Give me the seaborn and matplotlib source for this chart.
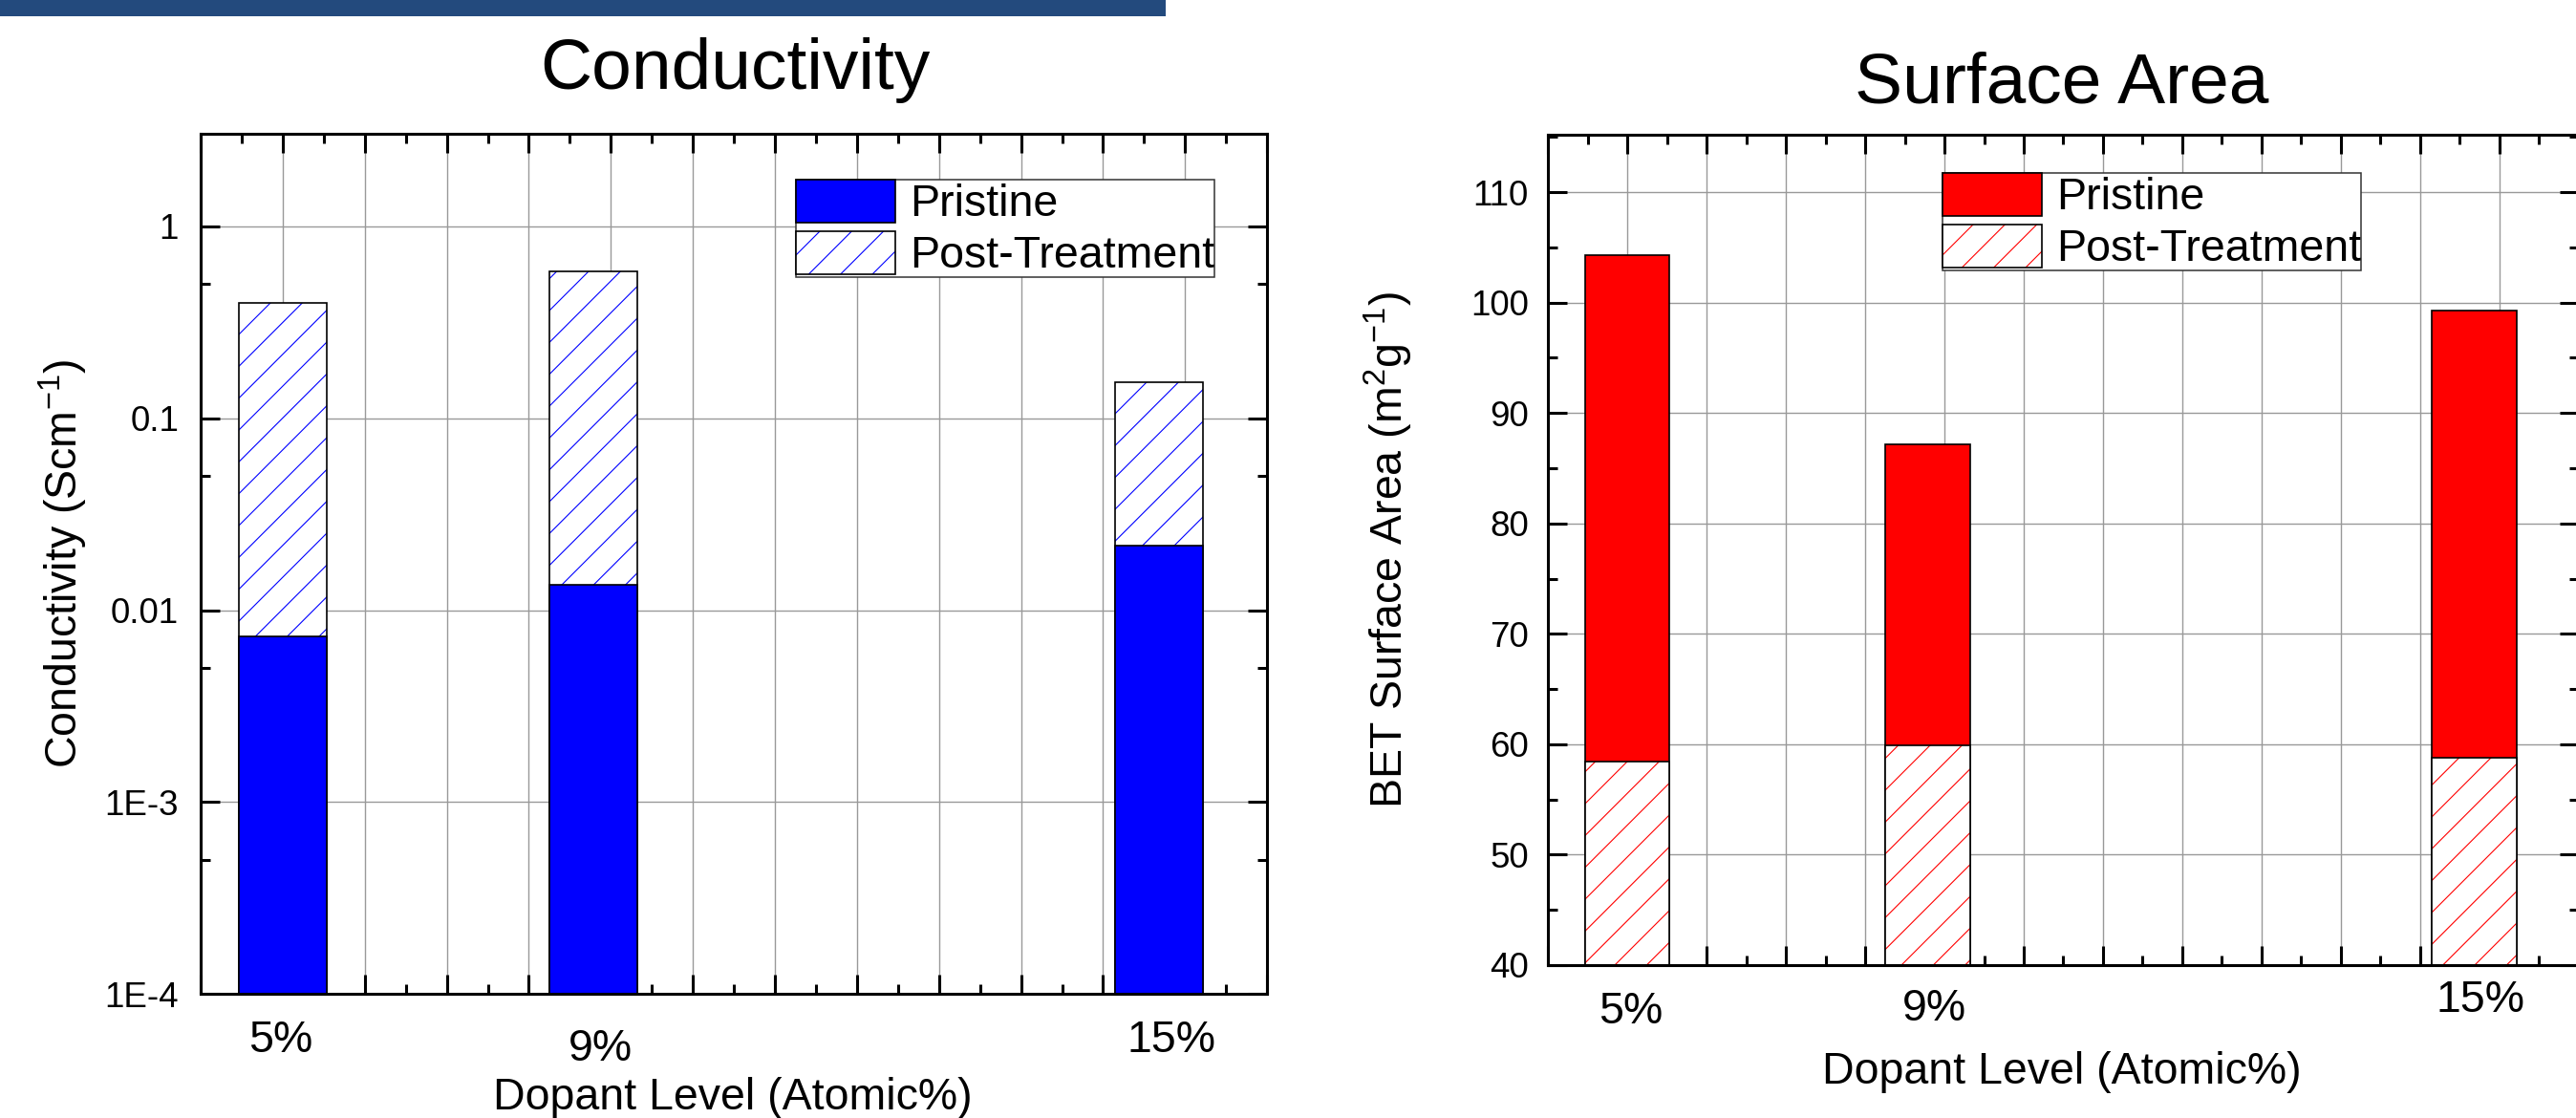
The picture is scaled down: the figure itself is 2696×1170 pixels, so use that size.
import numpy as np
import matplotlib
matplotlib.use("Agg")
import matplotlib.pyplot as plt
import seaborn as sns
from matplotlib.patches import Patch, Rectangle
from matplotlib.legend_handler import HandlerTuple
from matplotlib.ticker import (FixedLocator, FixedFormatter, MultipleLocator,
                               NullFormatter)

# ---------------- data ----------------
dopant_labels = ["5%", "9%", "15%"]
slot_pos = [1.0, 4.79, 11.68]          # bar slots along the (unlabelled) x axis
series_names = ["Pristine", "Post-Treatment"]

cond_pristine = [0.0073, 0.0135, 0.0216]
cond_post = [0.40, 0.58, 0.155]

bet_pristine = [104.3, 87.2, 99.3]
bet_post = [58.4, 59.9, 58.8]

cond_ticks = [1e-4, 1e-3, 1e-2, 1e-1, 1.0]
cond_tick_labels = ["1E-4", "1E-3", "0.01", "0.1", "1"]
cond_minor = [5e-4, 5e-3, 5e-2, 0.5]
bet_ticks = [40, 50, 60, 70, 80, 90, 100, 110]
bet_tick_labels = ["40", "50", "60", "70", "80", "90", "100", "110"]

# ---------------- style ----------------
sns.set_theme(style="white")
plt.rcParams["font.family"] = ["Liberation Sans", "DejaVu Sans"]
plt.rcParams["hatch.linewidth"] = 0.8
plt.rcParams["mathtext.fontset"] = "custom"
plt.rcParams["mathtext.rm"] = "Liberation Sans"
plt.rcParams["mathtext.it"] = "Liberation Sans"
for k in ("text.color", "axes.labelcolor", "xtick.color", "ytick.color",
          "axes.edgecolor"):
    plt.rcParams[k] = "black"

BLUE = "#0000FF"
RED = "#FF0000"
GRID = "#999999"
BAR_W = 1.07
LABEL_FS = 33.5

fig = plt.figure(figsize=(26.96, 11.70), dpi=100)
fig.patch.set_facecolor("white")

# top banner
fig.patches.append(Rectangle((0, 0.9855), 0.4525, 0.0145, transform=fig.transFigure,
                             facecolor="#234A7D", edgecolor="none"))

axL = fig.add_axes([0.0779, 0.1111, 0.4140, 0.7692])
axR = fig.add_axes([0.6009, 0.1368, 0.4002, 0.7427])


def draw_bars(ax, y, **kw):
    w = BAR_W / np.min(np.diff(sorted(slot_pos)))
    sns.barplot(x=slot_pos, y=y, native_scale=True, orient="x", width=w,
                errorbar=None, saturation=1, ax=ax, **kw)


# ---------- left: conductivity ----------
axL.set_yscale("log")
draw_bars(axL, cond_post, color="white", edgecolor=BLUE, hatch="/", linewidth=0, zorder=2)
draw_bars(axL, cond_post, fill=False, color="black", linewidth=1.2, zorder=2.1)
draw_bars(axL, cond_pristine, color=BLUE, edgecolor="black", linewidth=1.2, zorder=2.2)

# ---------- right: surface area ----------
draw_bars(axR, bet_pristine, color=RED, edgecolor="black", linewidth=1.2, zorder=2)
draw_bars(axR, bet_post, color="white", edgecolor=RED, hatch="/", linewidth=0, zorder=2.1)
draw_bars(axR, bet_post, fill=False, color="black", linewidth=1.2, zorder=2.2)

for ax in (axL, axR):
    ax.set_xlim(0, 13)
    ax.xaxis.set_major_locator(MultipleLocator(1))
    ax.xaxis.set_minor_locator(MultipleLocator(0.5))
    ax.xaxis.set_major_formatter(NullFormatter())
    ax.set_axisbelow(True)
    ax.grid(True, which="major", color=GRID, linewidth=1.0)
    ax.tick_params(which="both", direction="in", top=True, right=True,
                   bottom=True, left=True, width=2.2, colors="black")
    ax.tick_params(which="major", length=14.5)
    ax.tick_params(which="minor", length=7.2)
    ax.tick_params(axis="y", labelsize=26.5)
    for s in ax.spines.values():
        s.set_visible(True)
        s.set_color("black")
        s.set_linewidth(2.2)
    ax.set_xlabel("Dopant Level (Atomic%)", fontsize=LABEL_FS, va="center")
    ax.set_facecolor("white")

axL.set_ylim(1e-4, 3.04)
axL.yaxis.set_major_locator(FixedLocator(cond_ticks))
axL.yaxis.set_major_formatter(FixedFormatter(cond_tick_labels))
axL.yaxis.set_minor_locator(FixedLocator(cond_minor))
axL.yaxis.set_minor_formatter(NullFormatter())
axL.tick_params(axis="y", pad=16.5)
axL.set_ylabel("Conductivity (Scm$^{-1}$)", fontsize=LABEL_FS, va="center")
axL.yaxis.set_label_coords(-0.129, 0.5)
axL.xaxis.set_label_coords(0.499, -0.121)

axR.set_ylim(40, 115.2)
axR.yaxis.set_major_locator(FixedLocator(bet_ticks))
axR.yaxis.set_major_formatter(FixedFormatter(bet_tick_labels))
axR.yaxis.set_minor_locator(MultipleLocator(5))
axR.yaxis.set_minor_formatter(NullFormatter())
axR.tick_params(axis="y", pad=14.5)
axR.set_ylabel("BET Surface Area (m$^{2}$g$^{-1}$)", fontsize=LABEL_FS, va="center")
axR.yaxis.set_label_coords(-0.1548, 0.5)
axR.xaxis.set_label_coords(0.4986, -0.129)

# dopant labels under the bars
L_off = [(-0.03, -0.054), (0.08, -0.064), (0.15, -0.054)]
R_off = [(0.05, -0.057), (0.08, -0.053), (0.08, -0.043)]
for ax, offs in ((axL, L_off), (axR, R_off)):
    for x, lab, (dx, dy) in zip(slot_pos, dopant_labels, offs):
        ax.text(x + dx, dy, lab, transform=ax.get_xaxis_transform(),
                ha="center", va="center", fontsize=LABEL_FS)

# titles
fig.text(769 / 2696, 1 - 93 / 1170, "Conductivity", ha="center", va="baseline", fontsize=54)
fig.text(2158 / 2696, 1 - 107 / 1170, "Surface Area", ha="center", va="baseline", fontsize=54)


def make_legend(ax, color, anchor):
    h1 = Patch(facecolor=color, edgecolor="black", linewidth=1.2)
    h2 = (Patch(facecolor="white", edgecolor=color, hatch="/", linewidth=0),
          Patch(fill=False, edgecolor="black", linewidth=1.2))
    leg = ax.legend([h1, h2], series_names, loc="upper left", bbox_to_anchor=anchor,
                    fontsize=LABEL_FS, frameon=True, fancybox=False, shadow=False,
                    borderpad=0.0, borderaxespad=0.0, handlelength=2.24,
                    handleheight=1.12, handletextpad=0.32, labelspacing=0.12,
                    handler_map={tuple: HandlerTuple(ndivide=1, pad=0)})
    fr = leg.get_frame()
    fr.set_edgecolor("#333333")
    fr.set_linewidth(1.1)
    fr.set_alpha(1)
    leg.set_zorder(5)


make_legend(axL, BLUE, (0.558, 0.9467))
make_legend(axR, RED, (0.3828, 0.954))

fig.savefig("out.png", dpi=100)
